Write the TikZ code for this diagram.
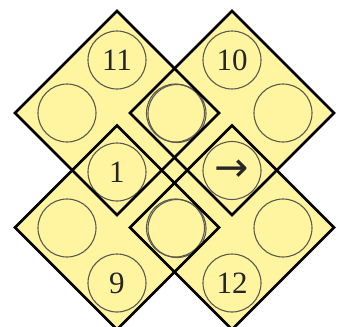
\documentclass[tikz,border=0pt]{standalone}
\usepackage{fontspec}
\setmainfont{Liberation Serif}
\newfontfamily\arrowfont{DejaVu Sans}
\usetikzlibrary{shapes.geometric}
\definecolor{padyellow}{RGB}{255,245,160}
\definecolor{ringgray}{RGB}{90,90,80}
\tikzset{
  dfill/.style={diamond, aspect=1, minimum size=204pt, inner sep=0pt, outer sep=0pt, fill=padyellow},
  gapfill/.style={diamond, aspect=1, minimum size=60pt, inner sep=0pt, outer sep=0pt, fill=padyellow},
  dline/.style={line width=2.5pt, line join=miter, black},
  ring/.style={circle, minimum size=58pt, inner sep=0pt, draw=ringgray, line width=1.1pt,
    font=\fontsize{31}{31}\selectfont, text=black!85},
}
\begin{document}
\begin{tikzpicture}[x=1pt,y=-1pt]
\useasboundingbox (0,0) rectangle (341,327);
\clip (0,0) rectangle (341,327);
% fills
\node[gapfill] (gap) at (174.5,170) {};
\node[dfill] (tl) at (117,113) {};
\node[dfill] (tr) at (232,113) {};
\node[dfill] (bl) at (117,227.5) {};
\node[dfill] (br) at (232,227.5) {};
% circles
\node[ring] (c11) at (117,60) {11};
\node[ring] (c10) at (232,60) {10};
\node[ring] (ctl) at (67,113) {};
\node[ring] (ctma) at (175.5,113) {};
\node[ring] (ctmb) at (177,113.5) {};
\node[ring] (ctr) at (283,113) {};
\node[ring] (c1) at (117,172) {1};
\node[ring, font=\arrowfont\fontsize{41}{41}\selectfont] (carr) at (232,170.5) {→};
\node[ring] (cbl) at (67,228) {};
\node[ring] (cbma) at (175.5,228) {};
\node[ring] (cbmb) at (177,228.5) {};
\node[ring] (cbr) at (283,228) {};
\node[ring] (c9) at (117,283) {9};
\node[ring] (c12) at (232,283) {12};
% diamond outlines
\foreach \d in {tl,tr,bl,br}{
  \draw[dline] (\d.north) -- (\d.east) -- (\d.south) -- (\d.west) -- cycle;
}
\end{tikzpicture}
\end{document}
